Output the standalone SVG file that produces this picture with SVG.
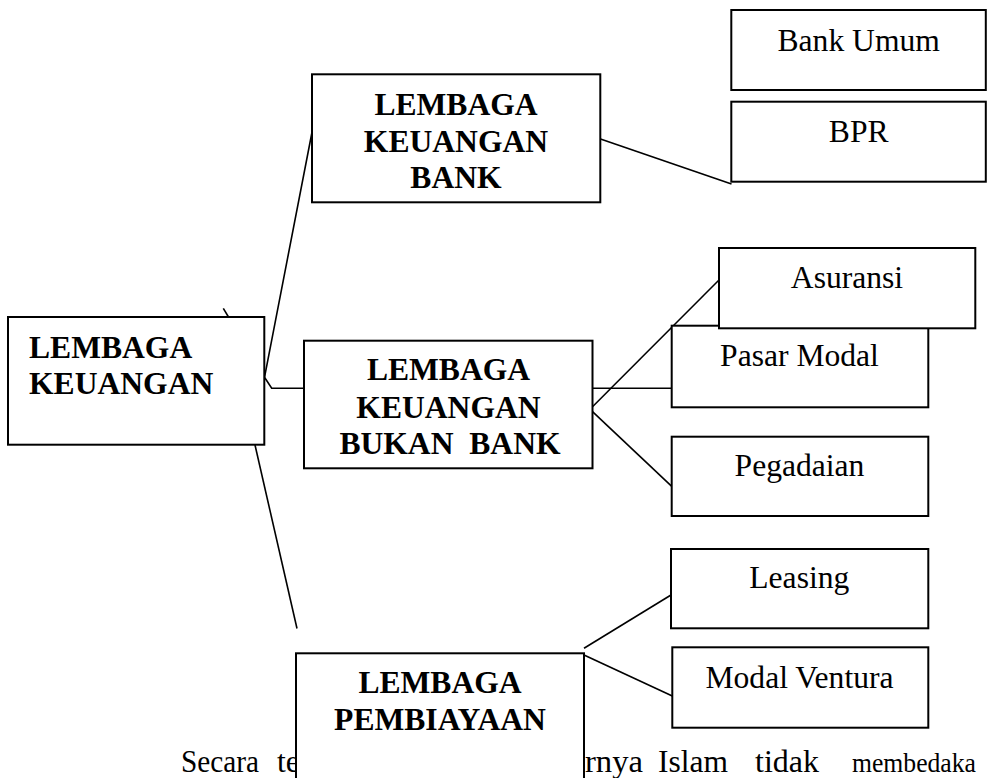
<svg xmlns="http://www.w3.org/2000/svg" width="987" height="778" viewBox="0 0 987 778">
<style>
.box{fill:#fff;stroke:#000;stroke-width:2}
.ln{fill:none;stroke:#000;stroke-width:1.6}
.b{font-family:"Liberation Serif","Times New Roman",serif;font-weight:bold;font-size:31.6px;fill:#000}
.r{font-family:"Liberation Serif","Times New Roman",serif;font-size:31.6px;fill:#000}
.c{text-anchor:middle}
</style>
<rect width="987" height="778" fill="#fff"/>
<g id="body-text" class="r">
<text x="181" y="772" textLength="78" lengthAdjust="spacingAndGlyphs">Secara</text>
<text x="277" y="772">te</text>
<text x="585" y="772" textLength="58" lengthAdjust="spacingAndGlyphs">rnya</text>
<text x="658" y="772" textLength="70" lengthAdjust="spacingAndGlyphs">Islam</text>
<text x="755" y="772" textLength="64" lengthAdjust="spacingAndGlyphs">tidak</text>
<text x="852" y="772" font-size="27" textLength="124" lengthAdjust="spacingAndGlyphs">membedaka</text>
</g>
<g id="connectors" class="ln">
<line x1="223.3" y1="308.3" x2="228.5" y2="317"/>
<polyline points="313,127 264.5,377.3 271.7,388.3 303,388.3"/>
<line x1="255" y1="445" x2="297" y2="628.5"/>
<line x1="600.5" y1="139" x2="731.5" y2="184"/>
<line x1="592.5" y1="388.3" x2="672" y2="388.3"/>
<line x1="592.5" y1="406.7" x2="719" y2="280"/>
<line x1="592.5" y1="411.7" x2="672" y2="486.7"/>
<line x1="584" y1="648.3" x2="671" y2="595"/>
<line x1="584" y1="655" x2="672.3" y2="696"/>
</g>
<g id="lembaga-keuangan">
<rect class="box" x="8" y="317" width="256.3" height="127.7"/>
<text class="b" x="29" y="357.7">LEMBAGA</text>
<text class="b" x="29" y="394">KEUANGAN</text>
</g>
<g id="lembaga-keuangan-bank">
<rect class="box" x="312" y="74.3" width="288.3" height="128"/>
<text class="b c" x="456" y="115">LEMBAGA</text>
<text class="b c" x="456" y="151.7">KEUANGAN</text>
<text class="b c" x="456" y="188.3">BANK</text>
</g>
<g id="lembaga-keuangan-bukan-bank">
<rect class="box" x="304" y="340.7" width="288.5" height="127.6"/>
<text class="b c" x="448.5" y="380">LEMBAGA</text>
<text class="b c" x="448.5" y="417.7">KEUANGAN</text>
<text class="b c" x="450" y="454.3" xml:space="preserve">BUKAN  BANK</text>
</g>
<g id="lembaga-pembiayaan">
<rect class="box" x="296" y="653.3" width="288" height="160"/>
<text class="b c" x="440" y="692.7">LEMBAGA</text>
<text class="b c" x="440" y="730">PEMBIAYAAN</text>
</g>
<g id="bank-umum">
<rect class="box" x="731.3" y="10" width="254.5" height="80"/>
<text class="r c" x="858.7" y="50.7">Bank Umum</text>
</g>
<g id="bpr">
<rect class="box" x="731.3" y="101.7" width="254.5" height="80"/>
<text class="r c" x="858.7" y="141.7">BPR</text>
</g>
<g id="pasar-modal">
<rect class="box" x="671.7" y="325.7" width="256.6" height="81.6"/>
<text class="r c" x="799.5" y="366">Pasar Modal</text>
</g>
<g id="asuransi">
<rect class="box" x="719" y="248" width="256.3" height="80.3"/>
<text class="r c" x="847" y="288.3">Asuransi</text>
</g>
<g id="pegadaian">
<rect class="box" x="671.7" y="436.7" width="256.6" height="79.3"/>
<text class="r c" x="799.5" y="476">Pegadaian</text>
</g>
<g id="leasing">
<rect class="box" x="671" y="549" width="257.3" height="79.3"/>
<text class="r c" x="799.3" y="588.3">Leasing</text>
</g>
<g id="modal-ventura">
<rect class="box" x="672.3" y="647.3" width="256" height="80.4"/>
<text class="r c" x="799.5" y="688.3">Modal Ventura</text>
</g>
</svg>
